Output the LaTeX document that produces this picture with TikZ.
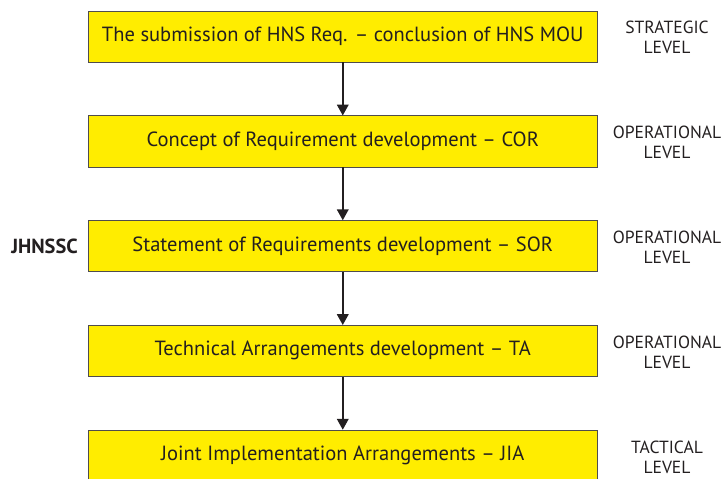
\documentclass[tikz,border=0pt]{standalone}
\usepackage{fontspec}
\setmainfont{PT Sans}
\usetikzlibrary{arrows.meta,positioning,shapes.geometric}
\definecolor{boxyellow}{RGB}{255,237,0}
\definecolor{inkgrey}{RGB}{35,31,32}
\tikzstyle{stage} = [rectangle, minimum width=12.71cm, minimum height=1.28cm, text centered, draw=inkgrey!80, fill=boxyellow, text=inkgrey, font=\fontsize{14.6}{17.5}\selectfont]
\tikzstyle{level} = [align=center, text=inkgrey, font=\fontsize{12.5}{14.2}\selectfont]
\tikzstyle{arrow} = [line width=1.05pt, draw=inkgrey, ->, >={Triangle[length=2.7mm,width=2.9mm]}]

\begin{document}
\begin{tikzpicture}
\useasboundingbox (0,0) rectangle (18.15,11.975);
\draw (8.569,11.06) node (s1) [stage] {The submission of HNS Req. -- conclusion of HNS MOU};
\draw (8.569,8.441) node (s2) [stage] {Concept of Requirement development -- COR};
\draw (8.569,5.822) node (s3) [stage] {Statement of Requirements development -- SOR};
\draw (8.569,3.203) node (s4) [stage] {Technical Arrangements development -- TA};
\draw (8.569,0.585) node (s5) [stage] {Joint Implementation Arrangements -- JIA};
%levels on the right
\draw (16.675,11.03) node (l1) [level] {STRATEGIC\\LEVEL};
\draw (16.675,8.41) node (l2) [level] {OPERATIONAL\\LEVEL};
\draw (16.675,5.79) node (l3) [level] {OPERATIONAL\\LEVEL};
\draw (16.675,3.17) node (l4) [level] {OPERATIONAL\\LEVEL};
\draw (16.675,0.55) node (l5) [level] {TACTICAL\\LEVEL};
\draw (1.1125,5.822) node (jh) [text=inkgrey, font=\fontsize{14.5}{17}\selectfont\bfseries] {JHNSSC};
\draw[arrow] (s1)--(s2);
\draw[arrow] (s2)--(s3);
\draw[arrow] (s3)--(s4);
\draw[arrow] (s4)--(s5);
\end{tikzpicture}
\end{document}
